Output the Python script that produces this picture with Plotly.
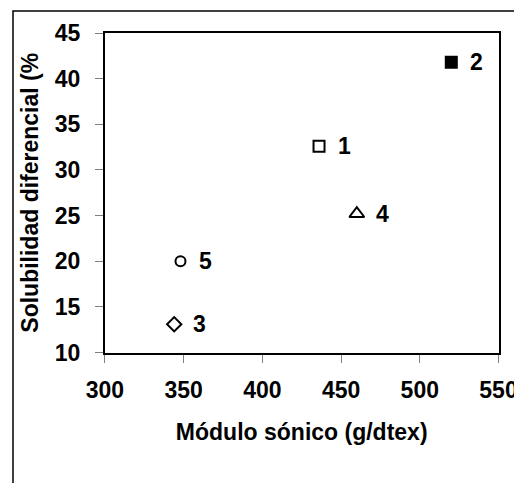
import plotly.graph_objects as go

labels = ["1", "2", "3", "4", "5"]
modulo = [436, 520, 344, 460, 348]
solubilidad = [32.6, 41.8, 13.1, 25.2, 20.0]
symbols = ["square-open", "square", "diamond-open", "triangle-up-open", "circle-open"]
sizes = [11, 11, 11, 13, 10]

x_ticks = [300, 350, 400, 450, 500, 550]
y_ticks = [10, 15, 20, 25, 30, 35, 40, 45]

# page body has an 8px margin; figure coords = window coords - 8
OFF = 8
W, H = 522 - OFF, 483 - OFF
# paper = outer chart frame
PL, PT = 13 - OFF, 11 - OFF
PR = 520.5 - OFF
pw, ph = PR - PL, H - PT
# plot area in window coords: x 105..499, y 33..352.5
xd = [(105 - OFF - PL) / pw, (499 - OFF - PL) / pw]
yd = [(H - (352.5 - OFF)) / ph, (H - (33 - OFF)) / ph]
FONT = "Arial, Liberation Sans"

fig = go.Figure()
for i in range(len(labels)):
    fig.add_trace(go.Scatter(
        x=[modulo[i]], y=[solubilidad[i]], mode="markers",
        marker=dict(symbol=symbols[i], size=sizes[i], color="black",
                    line=dict(color="black", width=2)),
        showlegend=False, hoverinfo="skip", cliponaxis=False))
    fig.add_annotation(x=modulo[i], y=solubilidad[i], text="<b>%s</b>" % labels[i],
                       showarrow=False, xanchor="left", xshift=17, yshift=0,
                       font=dict(family=FONT, size=23, color="black"))

axis_common = dict(showgrid=False, zeroline=False, showline=True, linecolor="black",
                   linewidth=2, mirror=True, ticks="outside", ticklen=8,
                   tickcolor="#808080", tickwidth=1, automargin=False,
                   tickfont=dict(family=FONT, size=23, color="black"))

fig.update_xaxes(range=[300, 550], tickvals=x_ticks, domain=xd,
                 ticktext=["<b>%d</b>" % v for v in x_ticks],
                 ticklabelstandoff=8,
                 title=dict(text="<b>Módulo sónico (g/dtex)</b>", standoff=22,
                            font=dict(family=FONT, size=23, color="black")),
                 **axis_common)
fig.update_yaxes(range=[10, 45], tickvals=y_ticks, domain=yd,
                 ticktext=["<b>%d</b>" % v for v in y_ticks],
                 ticklabelstandoff=10,
                 title=dict(text="<b>Solubilidad diferencial (%</b>", standoff=10,
                            font=dict(family=FONT, size=23, color="black")),
                 **axis_common)

# outer chart frame (bottom edge lies below the visible window)
fig.add_shape(type="rect", xref="paper", yref="paper",
              x0=0, x1=1, y0=-0.05, y1=1,
              line=dict(color="black", width=1.5), fillcolor="rgba(0,0,0,0)",
              layer="above")

fig.update_layout(width=W, height=H,
                  margin=dict(l=PL, r=W - PR, t=PT, b=0, pad=0),
                  plot_bgcolor="white", paper_bgcolor="white")

fig.write_html("out.html")
